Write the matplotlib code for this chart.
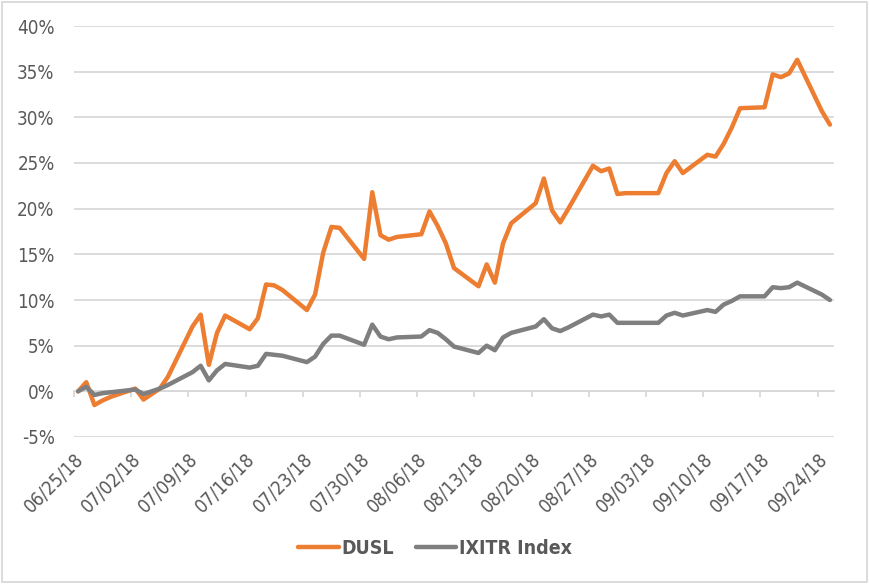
import matplotlib
matplotlib.use("Agg")
import matplotlib.pyplot as plt
import matplotlib.font_manager as fm
import matplotlib.ticker as mticker
import pandas as pd

dates = [
    "2018-06-25", "2018-06-26", "2018-06-27", "2018-06-28", "2018-06-29",
    "2018-07-02", "2018-07-03", "2018-07-05", "2018-07-06",
    "2018-07-09", "2018-07-10", "2018-07-11", "2018-07-12", "2018-07-13",
    "2018-07-16", "2018-07-17", "2018-07-18", "2018-07-19", "2018-07-20",
    "2018-07-23", "2018-07-24", "2018-07-25", "2018-07-26", "2018-07-27",
    "2018-07-30", "2018-07-31", "2018-08-01", "2018-08-02", "2018-08-03",
    "2018-08-06", "2018-08-07", "2018-08-08", "2018-08-09", "2018-08-10",
    "2018-08-13", "2018-08-14", "2018-08-15", "2018-08-16", "2018-08-17",
    "2018-08-20", "2018-08-21", "2018-08-22", "2018-08-23", "2018-08-24",
    "2018-08-27", "2018-08-28", "2018-08-29", "2018-08-30", "2018-08-31",
    "2018-09-04", "2018-09-05", "2018-09-06", "2018-09-07",
    "2018-09-10", "2018-09-11", "2018-09-12", "2018-09-13", "2018-09-14",
    "2018-09-17", "2018-09-18", "2018-09-19", "2018-09-20", "2018-09-21",
    "2018-09-24", "2018-09-25",
]

dusl = [
    0.0, 1.0, -1.5, -1.0, -0.6,
    0.3, -0.9, 0.3, 1.6,
    7.1, 8.4, 2.9, 6.4, 8.3,
    6.8, 8.0, 11.7, 11.6, 11.1,
    8.9, 10.6, 15.2, 18.0, 17.9,
    14.5, 21.8, 17.1, 16.6, 16.9,
    17.2, 19.7, 18.1, 16.2, 13.5,
    11.5, 13.9, 11.9, 16.2, 18.4,
    20.6, 23.3, 19.8, 18.5, 20.0,
    24.7, 24.1, 24.4, 21.6, 21.7,
    21.7, 23.9, 25.2, 23.9,
    25.9, 25.7, 27.1, 28.9, 31.0,
    31.1, 34.7, 34.4, 34.8, 36.3,
    30.7, 29.2,
]

ixitr = [
    0.0, 0.5, -0.4, -0.2, -0.1,
    0.2, -0.3, 0.3, 0.7,
    2.1, 2.8, 1.2, 2.3, 3.0,
    2.6, 2.8, 4.1, 4.0, 3.9,
    3.2, 3.8, 5.2, 6.1, 6.1,
    5.1, 7.3, 6.0, 5.7, 5.9,
    6.0, 6.7, 6.4, 5.7, 4.9,
    4.2, 5.0, 4.5, 5.9, 6.4,
    7.1, 7.9, 6.9, 6.6, 7.0,
    8.4, 8.2, 8.4, 7.5, 7.5,
    7.5, 8.3, 8.6, 8.3,
    8.9, 8.7, 9.5, 9.9, 10.4,
    10.4, 11.4, 11.3, 11.4, 11.9,
    10.6, 10.0,
]

tick_dates = ["2018-06-25", "2018-07-02", "2018-07-09", "2018-07-16", "2018-07-23",
              "2018-07-30", "2018-08-06", "2018-08-13", "2018-08-20", "2018-08-27",
              "2018-09-03", "2018-09-10", "2018-09-17", "2018-09-24"]
tick_labels = ["06/25/18", "07/02/18", "07/09/18", "07/16/18", "07/23/18",
               "07/30/18", "08/06/18", "08/13/18", "08/20/18", "08/27/18",
               "09/03/18", "09/10/18", "09/17/18", "09/24/18"]
y_ticks = [-5, 0, 5, 10, 15, 20, 25, 30, 35, 40]

# pick a narrow / condensed font if one is installed
names = {f.name for f in fm.fontManager.ttflist}
cond_dejavu = any(f.name == 'DejaVu Sans' and str(f.stretch).lower() in ('condensed', '75', 'semi-condensed')
                  for f in fm.fontManager.ttflist)
if 'Liberation Sans Narrow' in names:
    plt.rcParams['font.family'] = ['Liberation Sans Narrow', 'DejaVu Sans']
elif cond_dejavu:
    plt.rcParams['font.family'] = ['DejaVu Sans']
    plt.rcParams['font.stretch'] = 'condensed'
else:
    plt.rcParams['font.family'] = ['Roboto', 'DejaVu Sans']

ORANGE = "#ED7D31"
GRAY = "#7F7F7F"
GRID = "#D9D9D9"
TEXT = "#595959"

fig = plt.figure(figsize=(8.7, 5.84), dpi=100)
ax = fig.add_axes([74/870, 147/584, 760/870, 411/584])

x = pd.to_datetime(dates) + pd.Timedelta(hours=12)
ax.plot(x, dusl, color=ORANGE, lw=3.2, solid_joinstyle='round', solid_capstyle='round', label="DUSL", zorder=3)
ax.plot(x, ixitr, color=GRAY, lw=3.2, solid_joinstyle='round', solid_capstyle='round', label="IXITR Index", zorder=4)

ax.set_xlim(pd.Timestamp("2018-06-25"), pd.Timestamp("2018-09-26"))
ax.set_ylim(-5, 40)
ax.set_yticks(y_ticks)
ax.yaxis.set_major_formatter(mticker.FuncFormatter(lambda v, p: f"{v:.0f}%"))
ax.grid(axis='y', color=GRID, lw=1.3)
ax.set_axisbelow(True)

for s in ['top', 'right', 'left']:
    ax.spines[s].set_visible(False)
ax.spines['bottom'].set_position(('data', 0))
ax.spines['bottom'].set_color(GRID)
ax.spines['bottom'].set_linewidth(1.3)

tpos = pd.to_datetime(tick_dates)
ax.set_xticks(tpos)
ax.tick_params(axis='x', direction='out', length=4, width=1.3, color=GRID, labelbottom=False)
ax.tick_params(axis='y', length=0, pad=14, labelsize=13.5, labelcolor=TEXT)

sec = ax.secondary_xaxis('bottom')
sec.set_xticks(tpos)
sec.set_xticklabels(tick_labels, rotation=45, ha='right', rotation_mode='anchor')
sec.tick_params(length=0, pad=9, labelsize=13.5, labelcolor=TEXT)
sec.spines['bottom'].set_visible(False)

leg = fig.legend(loc='center', bbox_to_anchor=(0.5, 36/584), ncol=2, frameon=False,
                 prop={'size': 14, 'weight': 'bold'}, handlelength=2.1, columnspacing=1.1,
                 handletextpad=0.15, labelcolor=TEXT)
for h in leg.legend_handles:
    h.set_linewidth(3.2)

border = plt.Rectangle((0.002, 0.003), 0.995, 0.994, transform=fig.transFigure,
                       fill=False, edgecolor=GRID, lw=1.3)
fig.patches.append(border)

fig.savefig("out.png", dpi=100)
